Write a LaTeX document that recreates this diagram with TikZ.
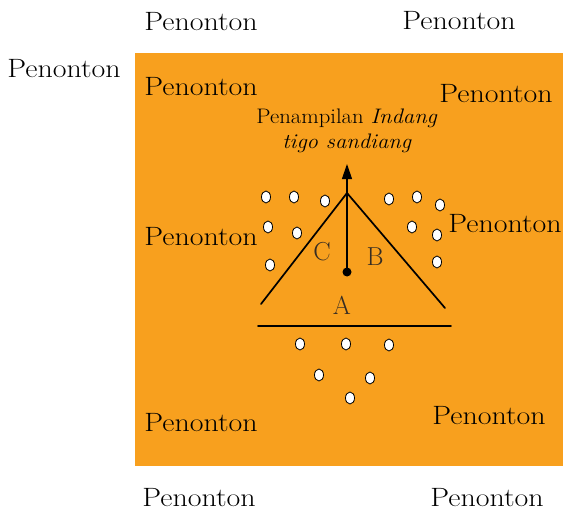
\documentclass[tikz,border=0pt]{standalone}
\usetikzlibrary{arrows.meta,shapes.geometric}
\definecolor{stage}{RGB}{248,160,30}
\definecolor{lbl}{RGB}{55,45,35}
\newcommand{\penx}{\scalebox{1.13}[1]{Penonton}}
\begin{document}
\begin{tikzpicture}[x=1pt,y=-1pt,
  aud/.style={font=\fontsize{26.5}{30}\selectfont, inner sep=0pt, anchor=center},
  seat/.style={ellipse, draw=black, fill=white, line width=0.8pt, minimum width=9pt, minimum height=12pt, inner sep=0pt},
  side/.style={line width=1.7pt, line cap=round},
  abc/.style={font=\fontsize{26}{30}\selectfont, text=lbl, inner sep=0pt}]
\useasboundingbox (0,0) rectangle (563,511);
\fill[stage] (135,53) rectangle (563,466);
% audience labels
\node[aud] (p1) at (201,22) {\penx};
\node[aud] (p2) at (459,21) {\penx};
\node[aud] (p3) at (64,69) {\penx};
\node[aud] (p4) at (201,87) {\penx};
\node[aud] (p5) at (496,94) {\penx};
\node[aud] (p6) at (201,237) {\penx};
\node[aud] (p7) at (505,224) {\penx};
\node[aud] (p8) at (201,423) {\penx};
\node[aud] (p9) at (489,416) {\penx};
\node[aud] (p10) at (199,498) {\penx};
\node[aud] (p11) at (487,498) {\penx};
% title
\node[font=\fontsize{21}{25}\selectfont, align=center, inner sep=0pt] (title) at (347,131) {\scalebox{1.08}[1]{Penampilan \textit{Indang}}\\\scalebox{1.08}[1]{\textit{tigo sandiang}}};
% triangle
\coordinate (apex) at (347,193);
\coordinate (bl) at (261,304);
\coordinate (br) at (445,308);
\draw[side] (bl) -- (apex) -- (br);
\coordinate (basel) at (258,326);
\coordinate (baser) at (451,326);
\draw[side] (basel) -- (baser);
% center dot and arrow
\node[circle, fill=black, minimum size=9pt, inner sep=0pt] (dot) at (347,272) {};
\coordinate (tip) at (347,164);
\draw[line width=1.2pt, -{Triangle[length=15pt,width=10pt]}] (dot.center) -- (tip);
% labels
\node[abc] (C) at (322,252) {C};
\node[abc] (B) at (375,257) {B};
\node[abc] (A) at (342,305) {A};
% seats
\foreach \i/\x/\y in {1/266/197,2/294/197,3/325/201,4/389/199,5/417/197,6/440/205,7/268/227,8/297/233,9/412/227,10/437/235,11/270/265,12/437/262,13/300/344,14/346/344,15/389/345,16/319/375,17/370/378,18/350/398}
  \node[seat] (s\i) at (\x,\y) {};
\end{tikzpicture}
\end{document}
